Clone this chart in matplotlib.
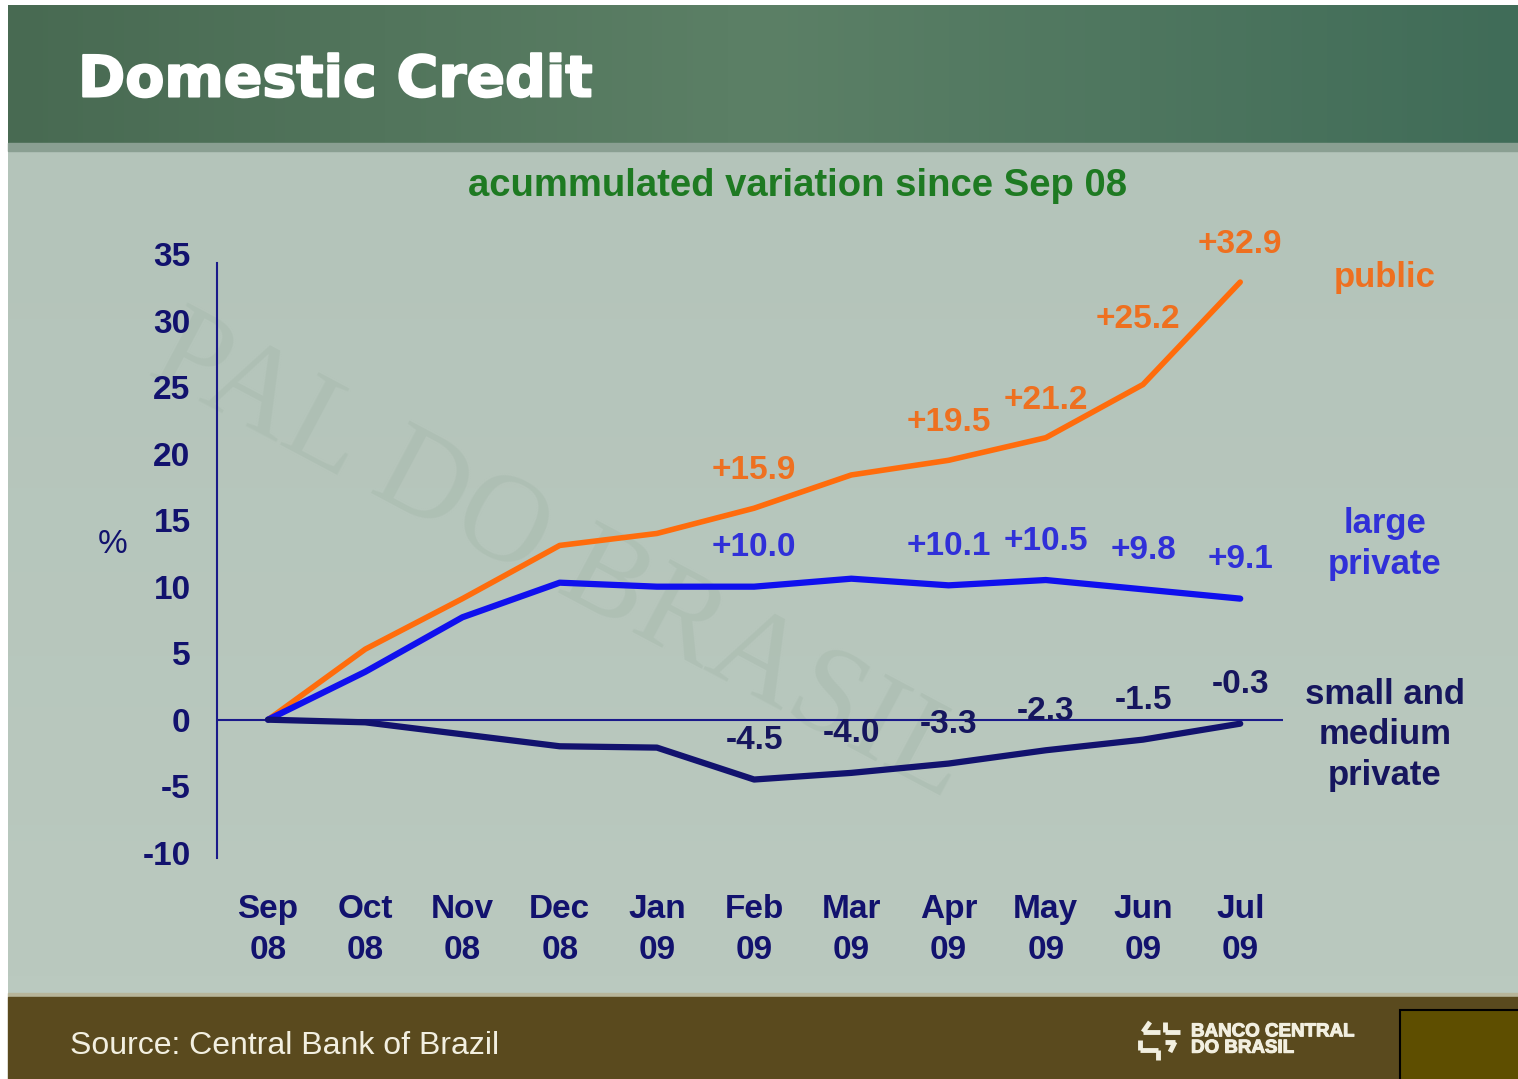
import numpy as np
import matplotlib
matplotlib.use("Agg")
import matplotlib.pyplot as plt
from matplotlib.patches import Rectangle
import matplotlib.patheffects as pe

plt.rcParams["font.family"] = ["Liberation Sans", "DejaVu Sans"]

# data
months = ["Sep\n08", "Oct\n08", "Nov\n08", "Dec\n08", "Jan\n09", "Feb\n09",
          "Mar\n09", "Apr\n09", "May\n09", "Jun\n09", "Jul\n09"]
public = [0.0, 5.3, 9.1, 13.1, 14.0, 15.9, 18.4, 19.5, 21.2, 25.2, 32.9]
large_private = [0.0, 3.6, 7.7, 10.3, 10.0, 10.0, 10.6, 10.1, 10.5, 9.8, 9.1]
small_medium = [0.0, -0.2, -1.1, -2.0, -2.1, -4.5, -4.0, -3.3, -2.3, -1.5, -0.3]
yticks = [-10, -5, 0, 5, 10, 15, 20, 25, 30, 35]

# which points get a value label
public_lbl = [5, 7, 8, 9, 10]
large_lbl = [5, 7, 8, 9, 10]
small_lbl = [5, 6, 7, 8, 9, 10]

ORANGE = "#ff6c0c"
ORANGE_TXT = "#ee7020"
BLUE = "#1010ee"
BLUE_TXT = "#3030d8"
NAVY = "#12126e"
NAVY_TXT = "#16165e"

W, H = 1518, 1079
fig = plt.figure(figsize=(W / 100, H / 100), dpi=100)
fig.patch.set_facecolor("white")

# slide background in pixel coordinates
bg = fig.add_axes([0, 0, 1, 1])
bg.set_xlim(0, W)
bg.set_ylim(H, 0)
bg.axis("off")

# header gradient
gx = np.linspace(0, 1, 300)
hdr = np.zeros((20, 300, 3))
left = np.array([0x48, 0x6a, 0x52]) / 255
mid = np.array([0x5c, 0x80, 0x66]) / 255
right = np.array([0x40, 0x6c, 0x58]) / 255
for i, t in enumerate(gx):
    c = left + (mid - left) * t * 2 if t < 0.5 else mid + (right - mid) * (t - 0.5) * 2
    hdr[:, i, :] = c
bg.imshow(hdr, extent=(8, W, 145, 5), aspect="auto", zorder=1)
bg.add_patch(Rectangle((8, 143), W - 8, 8, color="#8a9f92", zorder=2))

# main panel
pn = np.zeros((50, 2, 3))
top_c = np.array([0xb4, 0xc4, 0xba]) / 255
bot_c = np.array([0xba, 0xc9, 0xbf]) / 255
for i in range(50):
    pn[i, :, :] = top_c + (bot_c - top_c) * i / 49
bg.imshow(pn, extent=(8, W, 993, 151), aspect="auto", zorder=1)
bg.text(560, 560, "PAL DO BRASIL", fontsize=90, color="#aabcb0", rotation=-28,
        ha="center", va="center", family="Liberation Serif", zorder=2, alpha=0.6)

# footer
bg.add_patch(Rectangle((8, 993), W - 8, 4, color="#b7b59a", zorder=2))
bg.add_patch(Rectangle((8, 997), W - 8, H - 997, color="#5a4a1e", zorder=2))
bg.add_patch(Rectangle((1400, 1010), 130, 80, facecolor="#5e4e00",
                       edgecolor="black", lw=1.5, zorder=3))
bg.text(70, 1046, "Source: Central Bank of Brazil", fontsize=23, color="#f2efe0",
        ha="left", va="center", zorder=4)
bg.text(1191, 1040, "BANCO CENTRAL\nDO BRASIL", fontsize=13.5, color="#f2efe0",
        ha="left", va="center", fontweight="bold", linespacing=0.95, zorder=4,
        path_effects=[pe.withStroke(linewidth=0.8, foreground="#f2efe0")])
# simple logo mark
for (xa, ya, xb, yb) in [(1150, 1022, 1143, 1032), (1143, 1032, 1160, 1032),
                         (1165, 1022, 1165, 1032), (1165, 1032, 1180, 1032),
                         (1140, 1040, 1140, 1050), (1140, 1050, 1158, 1050),
                         (1158, 1050, 1158, 1060), (1165, 1042, 1175, 1042),
                         (1175, 1042, 1170, 1052)]:
    bg.plot([xa, xb], [ya, yb], color="#f2efe0", lw=3.5, solid_capstyle="butt",
            zorder=4)

bg.text(78, 81, "Domestic Credit", fontsize=41, color="white", family="DejaVu Sans",
        fontweight="bold", ha="left", va="center", zorder=4,
        path_effects=[pe.withStroke(linewidth=1.5, foreground="white")])
bg.text(797, 186, "acummulated variation since Sep 08", fontsize=27.5,
        color="#1e7a22", fontweight="bold", ha="center", va="center", zorder=4)

# chart axes
x0, x1 = 217, 1283
ytop, ybot = 247.5, 858
ax = fig.add_axes([x0 / W, (H - ybot) / H, (x1 - x0) / W, (ybot - ytop) / H])
ax.set_facecolor("none")
ax.set_xlim(-0.525, 10.44)
ax.set_ylim(-10.4, 35.5)

x = np.arange(len(months))
ax.plot(x, public, color=ORANGE, lw=4, solid_capstyle="round", zorder=3)
ax.plot(x, large_private, color=BLUE, lw=4.5, solid_capstyle="round", zorder=3)
ax.plot(x, small_medium, color=NAVY, lw=4.5, solid_capstyle="round", zorder=3)

ax.axhline(0, color="#1a1a8a", lw=1.5, zorder=2)
for s in ["top", "right", "bottom"]:
    ax.spines[s].set_visible(False)
ax.spines["left"].set_color("#1a1a8a")
ax.spines["left"].set_linewidth(1.5)
ax.spines["left"].set_bounds(-10.4, 34.3)

ax.set_yticks(yticks)
ax.set_yticklabels([str(v) for v in yticks])
ax.set_xticks(x)
ax.set_xticklabels(months, linespacing=1.4)
ax.tick_params(axis="y", length=0, pad=19, labelsize=24, labelcolor=NAVY)
ax.tick_params(axis="x", length=0, pad=26, labelsize=24, labelcolor=NAVY)
for t in ax.get_xticklabels() + ax.get_yticklabels():
    t.set_fontweight("bold")

ax.text(-1.6, 13.2, "%", fontsize=24, color=NAVY, ha="center", va="center")

def fmt(v):
    return f"+{v:.1f}" if v > 0 else f"{v:.1f}"

for i in public_lbl:
    dx = -4 if i == 9 else 0
    dy = 47 if i == 9 else 27
    ax.annotate(fmt(public[i]), (x[i], public[i]), xytext=(dx, dy),
                textcoords="offset points", ha="center", va="center",
                fontsize=24, fontweight="bold", color=ORANGE_TXT)
for i in large_lbl:
    ax.annotate(fmt(large_private[i]), (x[i], large_private[i]), xytext=(0, 28),
                textcoords="offset points", ha="center", va="center",
                fontsize=24, fontweight="bold", color=BLUE_TXT)
for i in small_lbl:
    ax.annotate(fmt(small_medium[i]), (x[i], small_medium[i]), xytext=(0, 28),
                textcoords="offset points", ha="center", va="center",
                fontsize=24, fontweight="bold", color=NAVY_TXT)

# series names at right
fig.text(1385 / W, 1 - 277 / H, "public", fontsize=25, fontweight="bold",
         color=ORANGE_TXT, ha="center", va="center")
fig.text(1385 / W, 1 - 544 / H, "large\nprivate", fontsize=25, fontweight="bold",
         color=BLUE_TXT, ha="center", va="center", linespacing=1.3)
fig.text(1385 / W, 1 - 735 / H, "small and\nmedium\nprivate", fontsize=25,
         fontweight="bold", color=NAVY_TXT, ha="center", va="center", linespacing=1.3)

fig.savefig("out.png", dpi=100)
